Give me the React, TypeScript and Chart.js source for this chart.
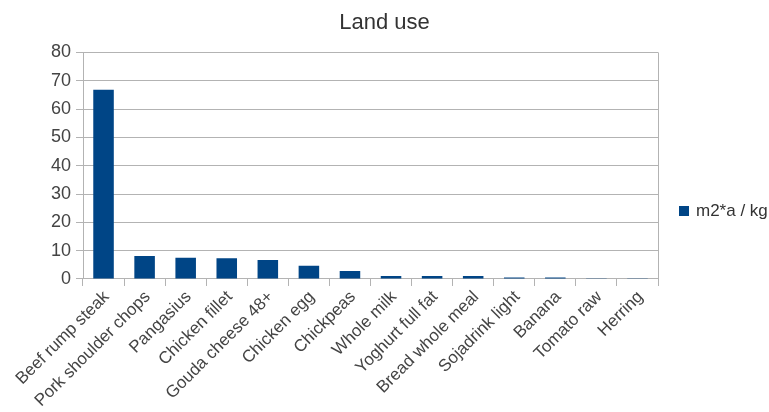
import React, { useEffect, useRef } from "react";
import { Chart, registerables } from "chart.js";

Chart.register(...registerables);

const categories = [
  "Beef rump steak",
  "Pork shoulder chops",
  "Pangasius",
  "Chicken fillet",
  "Gouda cheese 48+",
  "Chicken egg",
  "Chickpeas",
  "Whole milk",
  "Yoghurt full fat",
  "Bread whole meal",
  "Sojadrink light",
  "Banana",
  "Tomato raw",
  "Herring",
];

const landUse = [66.8, 8.1, 7.5, 7.3, 6.7, 4.7, 2.8, 1.1, 1.1, 1.1, 0.5, 0.5, 0.1, 0.1];

const seriesLabel = "m2*a / kg";
const chartTitle = "Land use";
const yMin = 0;
const yMax = 80;
const yStep = 10;

const FONT = "'Liberation Sans', Arial, sans-serif";
const GRID = "#b3b3b3";
const TEXT = "#444444";
const BAR = "#004586";

// Closes the plot area with a line on its right-hand side.
const rightBorder = {
  id: "rightBorder",
  afterDraw(chart: any) {
    const { ctx, chartArea } = chart;
    ctx.save();
    ctx.strokeStyle = GRID;
    ctx.lineWidth = 1;
    ctx.beginPath();
    const x = Math.round(chartArea.right) + 0.5;
    ctx.moveTo(x, chartArea.top);
    ctx.lineTo(x, chartArea.bottom + 7);
    ctx.stroke();
    ctx.restore();
  },
};

// Series key to the right of the plot.
const sideLegend = {
  id: "sideLegend",
  afterDraw(chart: any) {
    const { ctx, chartArea } = chart;
    const y = 211;
    const x0 = chartArea.right + 21;
    ctx.save();
    chart.data.datasets.forEach((ds: any) => {
      ctx.fillStyle = ds.backgroundColor;
      ctx.fillRect(x0, y - 5, 10, 10);
      ctx.fillStyle = "#333333";
      ctx.font = `17px ${FONT}`;
      ctx.textAlign = "left";
      ctx.textBaseline = "middle";
      ctx.fillText(ds.label, x0 + 17, y);
    });
    ctx.restore();
  },
};

export default function App() {
  const canvasRef = useRef<HTMLCanvasElement | null>(null);

  useEffect(() => {
    if (!canvasRef.current) return;
    const chart = new Chart(canvasRef.current, {
      type: "bar",
      data: {
        labels: categories,
        datasets: [
          {
            label: seriesLabel,
            data: landUse,
            backgroundColor: BAR,
            borderWidth: 0,
            categoryPercentage: 1,
            barPercentage: 0.5,
          },
        ],
      },
      options: {
        animation: false,
        responsive: false,
        maintainAspectRatio: false,
        layout: { padding: 0 },
        plugins: {
          title: {
            display: true,
            text: chartTitle,
            color: "#333333",
            font: { family: FONT, size: 22, weight: "normal" },
            padding: { top: 10, bottom: 16 },
          },
          legend: { display: false },
          tooltip: { enabled: false },
        },
        scales: {
          x: {
            offset: true,
            grid: {
              display: true,
              offset: true,
              drawOnChartArea: false,
              drawTicks: true,
              tickLength: 7,
              color: GRID,
            },
            border: { display: true, color: GRID },
            ticks: {
              color: TEXT,
              font: { family: FONT, size: 17 },
              minRotation: 45,
              maxRotation: 45,
              autoSkip: false,
              padding: 1,
              labelOffset: 3,
            },
          },
          y: {
            min: yMin,
            max: yMax,
            grid: { color: GRID, tickLength: 7, drawTicks: true },
            border: { display: true, color: GRID },
            ticks: {
              stepSize: yStep,
              color: TEXT,
              font: { family: FONT, size: 18 },
              padding: 5,
            },
            afterFit(scale: any) {
              scale.width = 83;
            },
          },
          // Empty right-hand axis that reserves room for the series key.
          keySpace: {
            type: "linear",
            position: "right",
            display: true,
            grid: { display: false },
            border: { display: false },
            ticks: { display: false },
            afterFit(scale: any) {
              scale.width = 111;
            },
          },
        },
      },
      plugins: [rightBorder, sideLegend],
    });
    return () => chart.destroy();
  }, []);

  return (
    <div style={{ position: "absolute", left: 0, top: 0, width: 769, height: 412, background: "#fff" }}>
      <canvas ref={canvasRef} width={769} height={412} />
    </div>
  );
}
